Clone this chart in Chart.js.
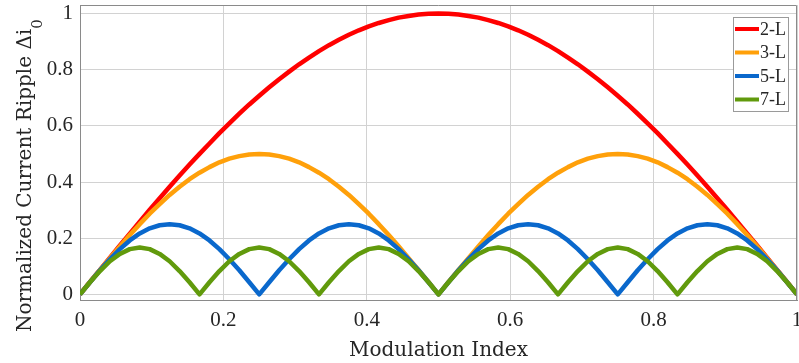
<!doctype html>
<html lang="en">
<head>
    <meta charset="utf-8">
    <script src="https://cdn.jsdelivr.net/npm/chart.js@4.4.1/dist/chart.umd.min.js"></script>
    <title>Current ripple vs modulation index</title>
    <style>
        html, body { margin: 0; padding: 0; background: #fff; }
        #wrap { width: 799px; height: 363px; position: relative; }
    </style>
</head>
<body>
<div id="wrap"><canvas id="chart"></canvas></div>

<script>
    // modulation index samples (x)
    const modIndex = [0, .0139, .0278, .0417, .0556, .0694, .0833, .0972, .1111, .125, .1389, .1528,
        .1667, .1806, .1944, .2083, .2222, .2361, .25, .2639, .2778, .2917, .3056, .3194,
        .3333, .3472, .3611, .375, .3889, .4028, .4167, .4306, .4444, .4583, .4722, .4861,
        .5, .5139, .5278, .5417, .5556, .5694, .5833, .5972, .6111, .625, .6389, .6528,
        .6667, .6806, .6944, .7083, .7222, .7361, .75, .7639, .7778, .7917, .8056, .8194,
        .8333, .8472, .8611, .875, .8889, .9028, .9167, .9306, .9444, .9583, .9722, .9861, 1];

    const ripple2L = [0, .044, .087, .131, .174, .216, .259, .301, .342, .383, .423, .462,
        .5, .537, .574, .609, .643, .676, .707, .737, .766, .793, .819, .843,
        .866, .887, .906, .924, .940, .954, .966, .976, .985, .991, .996, .999, 1,
        .999, .996, .991, .985, .976, .966, .954, .940, .924, .906, .887, .866,
        .843, .819, .793, .766, .737, .707, .676, .643, .609, .574, .537, .5,
        .462, .423, .383, .342, .301, .259, .216, .174, .131, .087, .044, 0];

    const ripple3L = [0, .044, .087, .129, .171, .211, .25, .287, .321, .354, .383, .410, .433, .453, .470, .483, .492, .498, .5,
        .498, .492, .483, .470, .453, .433, .410, .383, .354, .321, .287, .25, .211, .171, .129, .087, .044, 0,
        .044, .087, .129, .171, .211, .25, .287, .321, .354, .383, .410, .433, .453, .470, .483, .492, .498, .5,
        .498, .492, .483, .470, .453, .433, .410, .383, .354, .321, .287, .25, .211, .171, .129, .087, .044, 0];

    const ripple5L = [0, .043, .086, .125, .161, .192, .217, .235, .246, .25, .246, .235, .217, .192, .161, .125, .086, .043,
        0, .043, .086, .125, .161, .192, .217, .235, .246, .25, .246, .235, .217, .192, .161, .125, .086, .043,
        0, .043, .086, .125, .161, .192, .217, .235, .246, .25, .246, .235, .217, .192, .161, .125, .086, .043,
        0, .043, .086, .125, .161, .192, .217, .235, .246, .25, .246, .235, .217, .192, .161, .125, .086, .043, 0];

    const ripple7L = [0, .043, .083, .118, .144, .161, .167, .161, .144, .118, .083, .043,
        0, .043, .083, .118, .144, .161, .167, .161, .144, .118, .083, .043,
        0, .043, .083, .118, .144, .161, .167, .161, .144, .118, .083, .043,
        0, .043, .083, .118, .144, .161, .167, .161, .144, .118, .083, .043,
        0, .043, .083, .118, .144, .161, .167, .161, .144, .118, .083, .043,
        0, .043, .083, .118, .144, .161, .167, .161, .144, .118, .083, .043, 0];

    const seriesNames = ['2-L', '3-L', '5-L', '7-L'];
    const xTicks = [0, 0.2, 0.4, 0.6, 0.8, 1];
    const yTicks = [0, 0.2, 0.4, 0.6, 0.8, 1];
    const xTitle = 'Modulation Index';
    const yTitle = 'Normalized Current Ripple \u0394i';
    const yTitleSub = '0';

    const colors = ['#ff0000', '#ffa00a', '#0a68cc', '#619a0c'];
    const textColor = '#262626';

    function points(values) {
        return modIndex.map((x, i) => ({x: x, y: values[i]}));
    }

    const data = {
        datasets: [ripple2L, ripple3L, ripple5L, ripple7L].map((vals, i) => ({
            label: seriesNames[i],
            data: points(vals),
            borderColor: colors[i],
            backgroundColor: colors[i],
            borderWidth: 4.5,
            borderJoinStyle: 'round',
            pointRadius: 0,
            tension: 0,
            order: 4 - i   // later series drawn on top
        }))
    };

    // titles, top/right box edges and the in-axes legend
    const extras = {
        id: 'extras',
        afterDraw(chart) {
            const ctx = chart.ctx;
            const a = chart.chartArea;
            ctx.save();
            ctx.strokeStyle = '#8a8a8a';
            ctx.lineWidth = 1;
            ctx.beginPath();
            ctx.moveTo(a.left, a.top + 0.5);
            ctx.lineTo(a.right - 0.5, a.top + 0.5);
            ctx.lineTo(a.right - 0.5, a.bottom);
            ctx.stroke();

            ctx.fillStyle = textColor;
            ctx.font = '20px "DejaVu Serif"';
            ctx.textAlign = 'center';
            ctx.textBaseline = 'alphabetic';
            ctx.fillText(xTitle, (a.left + a.right) / 2, 356);

            ctx.save();
            ctx.translate(31, 332);
            ctx.rotate(-Math.PI / 2);
            ctx.textAlign = 'left';
            ctx.fillText(yTitle, 0, 0);
            const w = ctx.measureText(yTitle).width;
            ctx.font = '15px "DejaVu Serif"';
            ctx.fillText(yTitleSub, w, 11);
            ctx.restore();

            // legend
            const lx = 733, ly = 17, lw = 55, lh = 94;
            ctx.fillStyle = '#fff';
            ctx.fillRect(lx, ly, lw, lh);
            ctx.strokeStyle = '#9a9a9a';
            ctx.strokeRect(lx + 0.5, ly + 0.5, lw, lh);
            ctx.font = '18px "Liberation Serif"';
            ctx.textAlign = 'left';
            ctx.textBaseline = 'middle';
            chart.data.datasets.forEach((ds, i) => {
                const y = 29 + i * 23.5;
                ctx.strokeStyle = ds.borderColor;
                ctx.lineWidth = 4;
                ctx.beginPath();
                ctx.moveTo(lx + 2, y);
                ctx.lineTo(lx + 26, y);
                ctx.stroke();
                ctx.fillStyle = textColor;
                ctx.fillText(ds.label, lx + 27, y + 1);
            });
            ctx.restore();
        }
    };

    const tickFont = {family: '"Liberation Serif"', size: 21};

    const config = {
        type: 'line',
        data: data,
        options: {
            responsive: true,
            maintainAspectRatio: false,
            animation: false,
            layout: {padding: {top: 5, right: 2, left: 0, bottom: 0}},
            plugins: {
                legend: {display: false},
                tooltip: {enabled: false}
            },
            scales: {
                x: {
                    type: 'linear',
                    min: 0,
                    max: 1,
                    afterBuildTicks: s => { s.ticks = xTicks.map(v => ({value: v})); },
                    afterFit: s => {
                        s.height = 63;
                        s.paddingLeft = 0; s.paddingRight = 0;
                    },
                    ticks: {
                        font: tickFont,
                        color: textColor,
                        padding: 8,
                        maxRotation: 0,
                        autoSkip: false,
                        callback: v => String(v)
                    },
                    grid: {color: '#d2d2d2', lineWidth: 1, drawTicks: false},
                    border: {color: '#8a8a8a', width: 1}
                },
                y: {
                    type: 'linear',
                    min: -0.02,
                    max: 1.03,
                    afterBuildTicks: s => { s.ticks = yTicks.map(v => ({value: v})); },
                    afterFit: s => {
                        s.width = 80;
                        s.paddingTop = 0; s.paddingBottom = 0;
                    },
                    ticks: {
                        font: tickFont,
                        color: textColor,
                        padding: 7,
                        autoSkip: false,
                        callback: v => String(v)
                    },
                    grid: {color: '#d2d2d2', lineWidth: 1, drawTicks: false},
                    border: {color: '#8a8a8a', width: 1}
                }
            }
        },
        plugins: [extras]
    };

    const chart = new Chart(document.getElementById('chart'), config);
</script>
</body>
</html>
